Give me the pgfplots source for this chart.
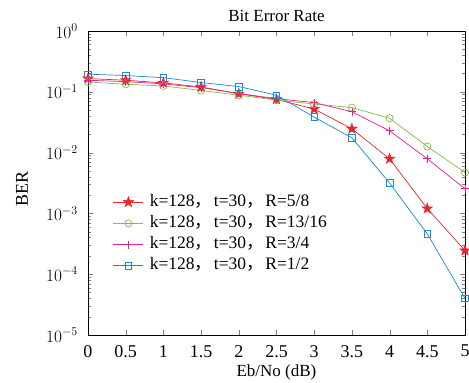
\documentclass[border=0pt]{standalone}
\usepackage{pgfplots}
\pgfplotsset{compat=1.18}
\usepackage{fontspec}
\setmainfont{Liberation Serif}
\newfontfamily\cjk{Noto Sans CJK SC}
\definecolor{cred}{RGB}{232,38,48}
\definecolor{cgreen}{RGB}{128,188,72}
\definecolor{cpink}{RGB}{232,30,150}
\definecolor{cblue}{RGB}{22,140,210}
\newcommand{\cm}{\hbox to 1.1em{\cjk ，\hss}}
\pgfdeclareplotmark{fstar}{%
  \pgfpathmoveto{\pgfpointpolar{90}{\pgfplotmarksize}}%
  \pgfpathlineto{\pgfpointpolar{126}{0.4\pgfplotmarksize}}%
  \pgfpathlineto{\pgfpointpolar{162}{\pgfplotmarksize}}%
  \pgfpathlineto{\pgfpointpolar{198}{0.4\pgfplotmarksize}}%
  \pgfpathlineto{\pgfpointpolar{234}{\pgfplotmarksize}}%
  \pgfpathlineto{\pgfpointpolar{270}{0.4\pgfplotmarksize}}%
  \pgfpathlineto{\pgfpointpolar{306}{\pgfplotmarksize}}%
  \pgfpathlineto{\pgfpointpolar{342}{0.4\pgfplotmarksize}}%
  \pgfpathlineto{\pgfpointpolar{18}{\pgfplotmarksize}}%
  \pgfpathlineto{\pgfpointpolar{54}{0.4\pgfplotmarksize}}%
  \pgfpathclose
  \pgfusepathqfillstroke}
\begin{document}
\begin{tikzpicture}
\begin{axis}[name=ax,
  scale only axis, width=377pt, height=304pt,
  ymode=log, xmin=0, xmax=5, ymin=1e-5, ymax=1,
  xtick={0,0.5,...,5},
  xticklabels={0,0.5,1,1.5,2,2.5,3,3.5,4,4.5,5},
  ytick={1e-5,1e-4,1e-3,1e-2,1e-1,1},
  tick align=inside, tick pos=both,
  major tick length=5pt, minor tick length=3pt,
  title={Bit Error Rate},
  title style={font=\fontsize{17}{19}\selectfont, at={(axis description cs:0.5,1)}, anchor=base, yshift=3.5pt},
  xlabel={Eb/No (dB)}, ylabel={BER},
  xlabel style={font=\fontsize{17}{19}\selectfont, at={(axis description cs:0.5,0)}, anchor=center, yshift=-37pt},
  ylabel style={font=\fontsize{18}{20}\selectfont, at={(axis description cs:-0.175,0.48)}, anchor=center},
  ticklabel style={font=\fontsize{18}{20}\selectfont},
  yticklabel style={inner sep=0pt, anchor=east, xshift=-10pt},
  xticklabel style={inner sep=0pt, anchor=north, yshift=-10pt},
  legend style={draw=none, fill=none, inner sep=0pt, at={(rel axis cs:0.066,0.4724)}, anchor=north west,
    font=\fontsize{17.5}{19}\selectfont, row sep=0pt,
    nodes={text height=12pt, text depth=4pt, inner ysep=2.6pt, inner xsep=0pt},
    /tikz/every odd column/.append style={column sep=6pt}},
  legend cell align=left,
  legend image code/.code={\draw[mark repeat=2,mark phase=2] plot coordinates {(0pt,0pt)(15pt,0pt)(30pt,0pt)};},
  every axis plot/.append style={line width=0.7pt},
]
\addplot[cred, mark=fstar, mark size=5.5pt, mark options={fill=cred, line width=0.5pt}] coordinates {
(0,0.165)(0.5,0.155)(1,0.14)(1.5,0.12)(2,0.093)(2.5,0.075)(3,0.052)(3.5,0.0246)(4,0.0079)(4.5,0.0012)(5,0.000245)};
\addlegendentry{k=128\cm t=30\cm R=5/8}
\addplot[cgreen, mark=o, mark size=3.6pt] coordinates {
(0,0.145)(0.5,0.133)(1,0.125)(1.5,0.105)(2,0.088)(2.5,0.073)(3,0.063)(3.5,0.055)(4,0.0368)(4.5,0.0126)(5,0.0047)};
\addlegendentry{k=128\cm t=30\cm R=13/16}
\addplot[cpink, mark=+, mark size=4pt] coordinates {
(0,0.155)(0.5,0.147)(1,0.135)(1.5,0.117)(2,0.094)(2.5,0.077)(3,0.0665)(3.5,0.047)(4,0.0228)(4.5,0.0079)(5,0.00255)};
\addlegendentry{k=128\cm t=30\cm R=3/4}
\addplot[cblue, mark=square, mark size=3.3pt] coordinates {
(0,0.195)(0.5,0.185)(1,0.171)(1.5,0.142)(2,0.122)(2.5,0.088)(3,0.0383)(3.5,0.0175)(4,0.00316)(4.5,0.00046)(5,0.00004)};
\addlegendentry{k=128\cm t=30\cm R=1/2}
\end{axis}
\pgfresetboundingbox
\path[use as bounding box] ([shift={(-88pt,-48pt)}]ax.south west) rectangle ([shift={(4pt,31pt)}]ax.north east);
\end{tikzpicture}
\end{document}
